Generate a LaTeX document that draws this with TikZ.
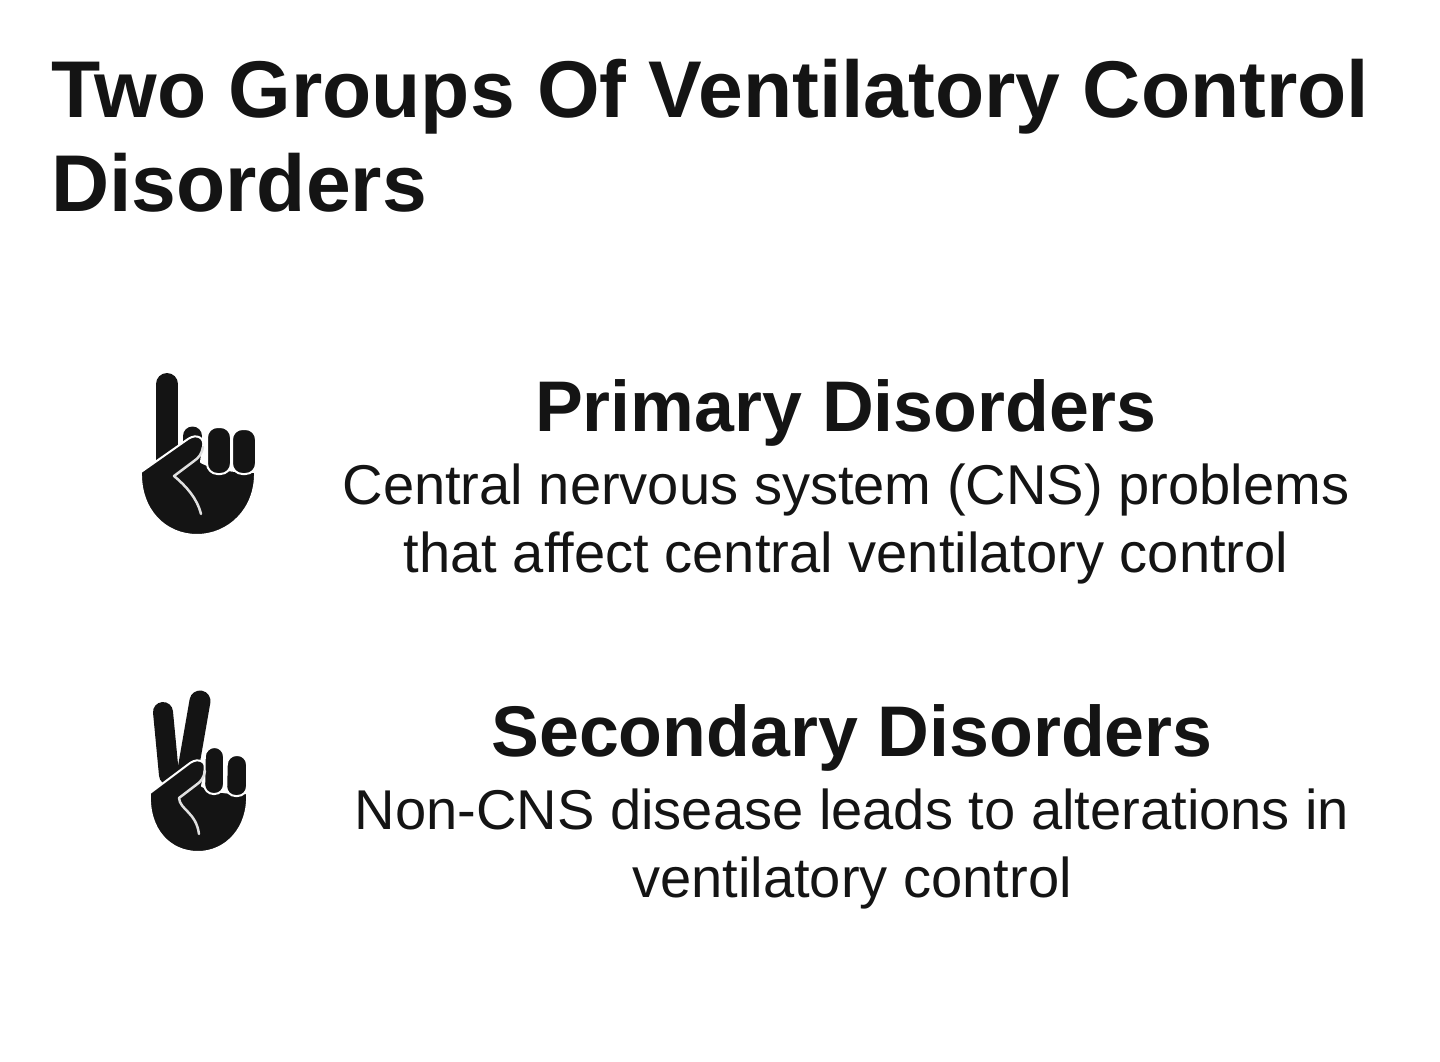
\documentclass[tikz,border=0pt]{standalone}
\usepackage{fontspec}
\setmainfont{Liberation Sans}
\usepackage{tikz}
\definecolor{inkblack}{HTML}{141414}
\tikzset{
	titletext/.style={font=\fontsize{80.5}{94}\selectfont\bfseries, text=inkblack, align=left, anchor=west, inner sep=0pt},
	headtext/.style={font=\fontsize{71.7}{80}\selectfont\bfseries, text=inkblack, inner sep=0pt},
	bodytext/.style={font=\fontsize{56.1}{67.5}\selectfont, text=inkblack, align=center, inner sep=0pt},
	handfill/.style={fill=inkblack, draw=white, line width=2pt, line join=round},
	handline/.style={draw=white!88!black, line width=2.5pt, line cap=round, line join=round},
	fingerline/.style={draw=inkblack, line cap=round}
}

\begin{document}
\begin{tikzpicture}[x=1pt, y=-1pt]
  \useasboundingbox (0,0) rectangle (1440,1062);
  \node (title) [titletext] at (51,136) {Two Groups Of Ventilatory Control\\Disorders};
  \node (primary_head) [headtext] at (846,413) {Primary Disorders};
  \node (primary_body) [bodytext] at (846,524) {Central nervous system (CNS) problems\\that affect central ventilatory control};
  \node (secondary_head) [headtext] at (852,738) {Secondary Disorders};
  \node (secondary_body) [bodytext] at (852,849) {Non-CNS disease leads to alterations in\\ventilatory control};
  % one finger
  \draw [fingerline, line width=22pt] (167,384) -- (167,460);
  \draw [fingerline, line width=19pt] (192.5,436) -- (192.5,465);
  \draw [handfill] (141,472) -- (188,439) .. controls (197,433) and (205,438) .. (203,447)
    -- (201,462) .. controls (215,470) and (240,472) .. (255,472)
    .. controls (256,510) and (228,535) .. (197,535) .. controls (165,535) and (140,510) .. (141,472) -- cycle;
  \draw [handfill, rounded corners=10.5pt] (207,474) -- (207,427) -- (231,427) -- (231,474) -- cycle;
  \draw [handfill, rounded corners=10.5pt] (232,474) -- (232,429) -- (256,429) -- (256,474) -- cycle;
  \draw [handline] (203,447) .. controls (202,453) and (199,458) .. (194,461) -- (174,476)
    .. controls (186,486) and (197,498) .. (201,514);
  % two fingers
  \draw [fingerline, line width=20pt] (163,712) -- (169,775);
  \draw [fingerline, line width=21pt] (200,701) -- (188,770);
  \draw [handfill] (150,793) -- (190,763) .. controls (199,757) and (207,762) .. (205,771)
    -- (202,786) .. controls (212,792) and (235,794) .. (247,793)
    .. controls (249,828) and (226,852) .. (198,852) .. controls (170,852) and (148,830) .. (150,793) -- cycle;
  \draw [handfill, rounded corners=9.5pt] (204,794) -- (205,747) -- (224,747) -- (224,794) -- cycle;
  \draw [handfill, rounded corners=9.5pt] (226,796) -- (227,755) -- (247,755) -- (247,796) -- cycle;
  \draw [handline] (205,771) .. controls (204,777) and (201,782) .. (196,785) -- (179,798)
    .. controls (180,810) and (196,812) .. (199,834);
\end{tikzpicture}
\end{document}
